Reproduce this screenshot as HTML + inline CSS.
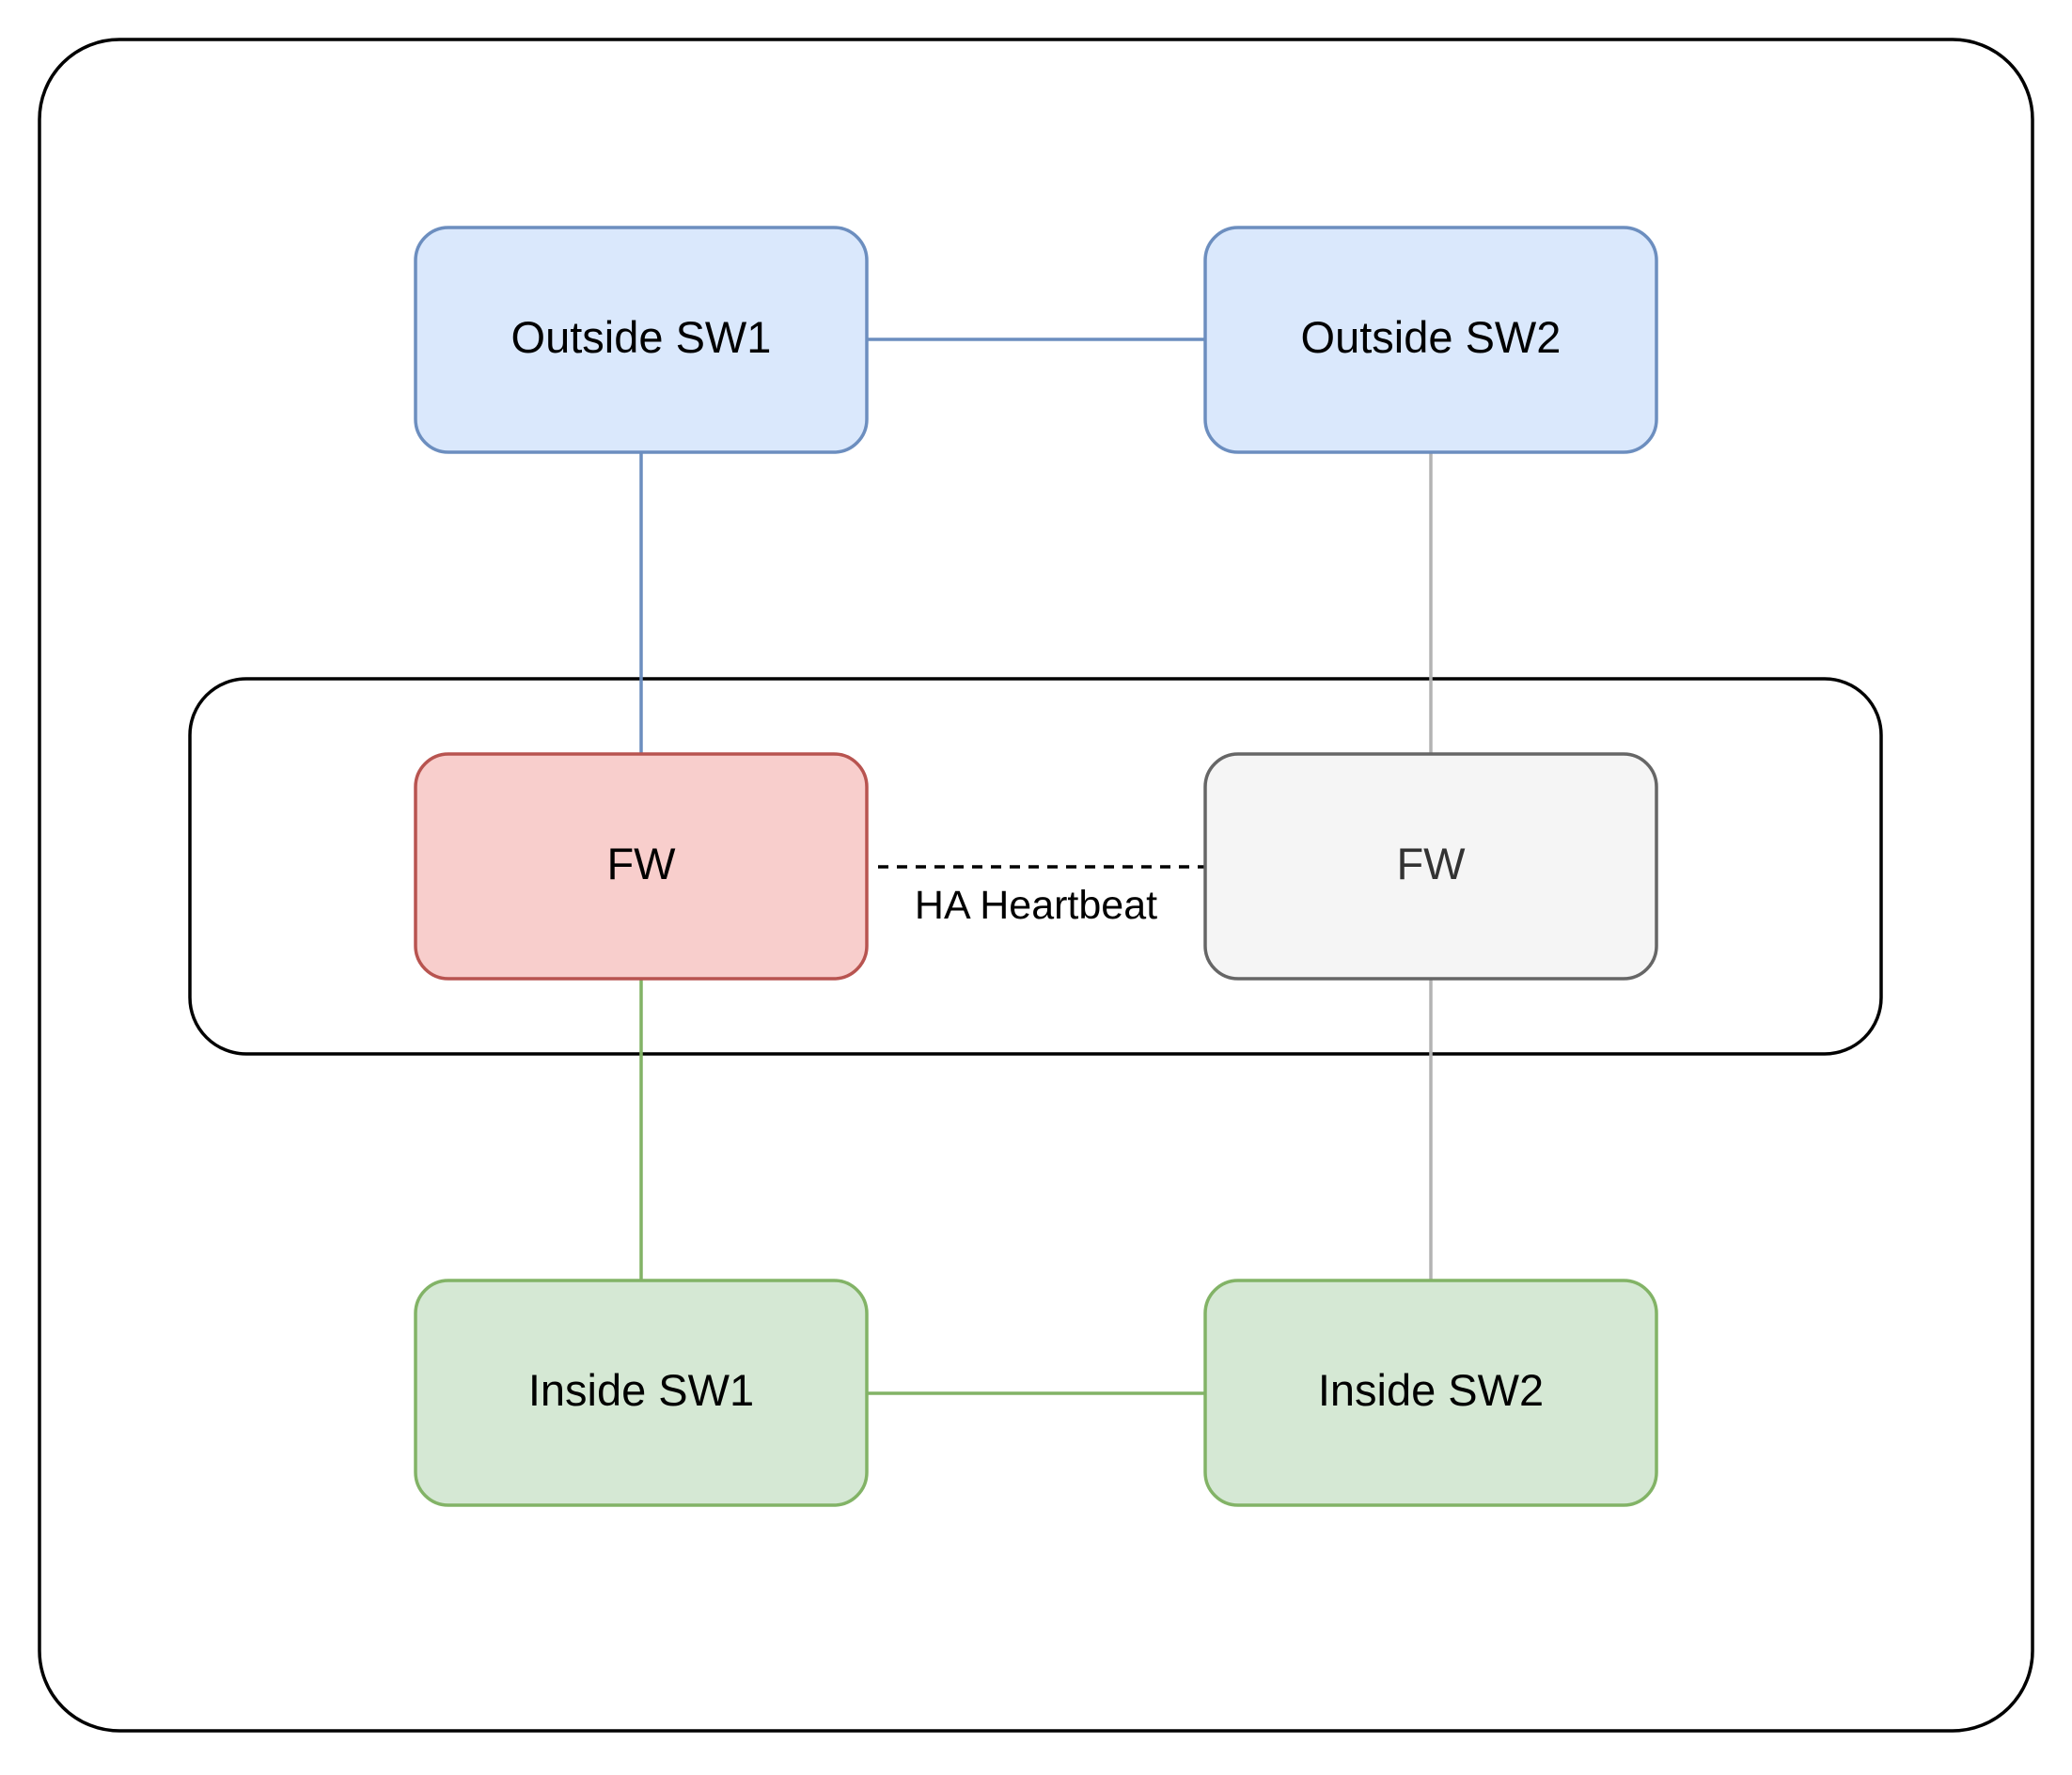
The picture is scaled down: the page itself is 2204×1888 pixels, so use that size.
<!DOCTYPE html>
<html><head><meta charset="utf-8"><style>
html,body{margin:0;padding:0;background:#fff;}
svg{display:block;}
text{font-family:"Liberation Sans",Arial,sans-serif;}
</style></head><body>
<svg width="2204" height="1888" viewBox="0 0 2204 1888" xmlns="http://www.w3.org/2000/svg">
<rect x="0" y="0" width="2204" height="1888" fill="#fff"/>
<rect x="42" y="42" width="2120" height="1799" rx="85" ry="85" fill="#fff" stroke="#000" stroke-width="3.5"/>
<rect x="202" y="722" width="1799" height="399" rx="60" ry="60" fill="#fff" stroke="#000" stroke-width="3.5"/>
<line x1="922" y1="361" x2="1282" y2="361" stroke="#6c8ebf" stroke-width="3.5"/>
<line x1="682" y1="481" x2="682" y2="801" stroke="#6c8ebf" stroke-width="3.5"/>
<line x1="1522" y1="481" x2="1522" y2="802" stroke="#b3b3b3" stroke-width="3.5"/>
<line x1="682" y1="1041" x2="682" y2="1362" stroke="#82b366" stroke-width="3.5"/>
<line x1="1522" y1="1041" x2="1522" y2="1362" stroke="#b3b3b3" stroke-width="3.5"/>
<line x1="922" y1="1482" x2="1282" y2="1482" stroke="#82b366" stroke-width="3.5"/>
<line x1="934" y1="922" x2="1282" y2="922" stroke="#000" stroke-width="3.5" stroke-dasharray="11 9"/>
<text x="1102" y="977" font-size="43" text-anchor="middle" fill="#000">HA Heartbeat</text>
<rect x="442" y="242" width="480" height="239" rx="35" fill="#dae8fc" stroke="#6c8ebf" stroke-width="3.5"/>
<text x="682" y="375" font-size="47" text-anchor="middle" fill="#000">Outside SW1</text>
<rect x="1282" y="242" width="480" height="239" rx="35" fill="#dae8fc" stroke="#6c8ebf" stroke-width="3.5"/>
<text x="1522" y="375" font-size="47" text-anchor="middle" fill="#000">Outside SW2</text>
<rect x="442" y="802" width="480" height="239" rx="35" fill="#f8cecc" stroke="#b85450" stroke-width="3.5"/>
<text x="682" y="935" font-size="47" text-anchor="middle" fill="#000">FW</text>
<rect x="1282" y="802" width="480" height="239" rx="35" fill="#f5f5f5" stroke="#666666" stroke-width="3.5"/>
<text x="1522" y="935" font-size="47" text-anchor="middle" fill="#333">FW</text>
<rect x="442" y="1362" width="480" height="239" rx="35" fill="#d5e8d4" stroke="#82b366" stroke-width="3.5"/>
<text x="682" y="1495" font-size="47" text-anchor="middle" fill="#000">Inside SW1</text>
<rect x="1282" y="1362" width="480" height="239" rx="35" fill="#d5e8d4" stroke="#82b366" stroke-width="3.5"/>
<text x="1522" y="1495" font-size="47" text-anchor="middle" fill="#000">Inside SW2</text>
</svg>
</body></html>
